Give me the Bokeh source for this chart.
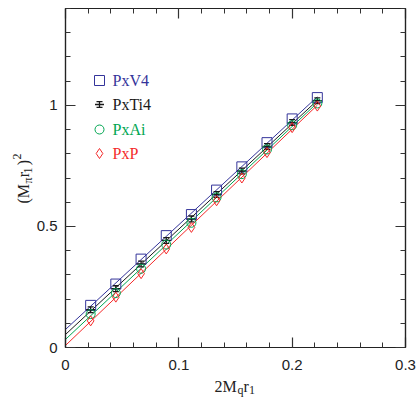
import numpy as np
from bokeh.plotting import figure
from bokeh.models import FixedTicker, LinearAxis, Label
from bokeh.core.properties import value
from bokeh.embed import file_html
from bokeh.resources import INLINE

# ---- data ----
mq = [0.0222, 0.0444, 0.0667, 0.0889, 0.1111, 0.1333, 0.1556, 0.1778, 0.2000, 0.2222]
pxv4 = [0.174, 0.262, 0.365, 0.462, 0.549, 0.650, 0.746, 0.846, 0.944, 1.032]
pxti4 = [0.156, 0.243, 0.345, 0.442, 0.531, 0.632, 0.729, 0.830, 0.929, 1.019]
pxai = [0.138, 0.225, 0.325, 0.425, 0.515, 0.620, 0.716, 0.818, 0.918, 1.008]
pxp = [0.110, 0.208, 0.305, 0.407, 0.496, 0.606, 0.700, 0.805, 0.908, 0.997]
pxti4_err = [0.012, 0.012, 0.012, 0.012, 0.012, 0.012, 0.012, 0.012, 0.012, 0.012]

series_names = ["PxV4", "PxTi4", "PxAi", "PxP"]
series_colors = ["#34349a", "#1a1a1a", "#00a651", "#f42a2a"]
x_ticks = [0, 0.1, 0.2, 0.3]
x_tick_labels = ["0", "0.1", "0.2", "0.3"]
y_ticks = [0, 0.5, 1]
y_tick_labels = ["0", "0.5", "1"]

W, H = 418, 397
BL, BR, BT, BB = 65, 13, 8, 50
XR = (0, 0.3)
YR = (0, 1.4)
FW, FH = W - BL - BR, H - BT - BB


def dx(px):
    return XR[0] + (px - BL) * (XR[1] - XR[0]) / FW


def dy(py):
    return YR[0] + (BT + FH - py) * (YR[1] - YR[0]) / FH


p = figure(width=W, height=H, x_range=XR, y_range=YR, output_backend="svg",
           toolbar_location=None, min_border_left=BL, min_border_right=BR,
           min_border_top=BT, min_border_bottom=BB)
p.xgrid.visible = False
p.ygrid.visible = False
p.outline_line_color = "#222222"
p.outline_line_width = 1.2

xminor = [round(0.02 * i, 2) for i in range(16)]
yminor = [round(0.1 * i, 1) for i in range(15)]


def style(ax, ticks, minor, labels, show):
    ax.ticker = FixedTicker(ticks=ticks, minor_ticks=minor)
    ax.major_tick_in = 10
    ax.major_tick_out = 0
    ax.minor_tick_in = 5
    ax.minor_tick_out = 0
    ax.axis_line_color = "#222222"
    ax.axis_line_width = 1.2
    ax.major_tick_line_color = "#333333"
    ax.minor_tick_line_color = "#333333"
    ax.major_tick_line_width = 1.2
    ax.minor_tick_line_width = 1
    if show:
        ax.major_label_overrides = {t: l for t, l in zip(ticks, labels)}
        ax.major_label_text_font = "Liberation Sans"
        ax.major_label_text_font_size = "15px"
        ax.major_label_text_color = "#222222"
    else:
        ax.major_label_overrides = {t: "" for t in ticks}
        ax.major_label_text_font_size = "0px"
        ax.major_label_standoff = 0


style(p.xaxis[0], x_ticks, xminor, x_tick_labels, True)
style(p.yaxis[0], y_ticks, yminor, y_tick_labels, True)
p.xaxis[0].major_label_standoff = 12
p.yaxis[0].major_label_standoff = 8

top = LinearAxis()
style(top, x_ticks, xminor, x_tick_labels, False)
p.add_layout(top, "above")
right = LinearAxis()
style(right, y_ticks, yminor, y_tick_labels, False)
p.add_layout(right, "right")

# ---- fit lines ----
all_y = [pxv4, pxti4, pxai, pxp]
for ys, c in zip(all_y, series_colors):
    k, b = np.polyfit(mq, ys, 1)
    xs = [0, max(mq)]
    p.line(xs, [b + k * v for v in xs], line_color=c, line_width=1)

# ---- markers ----
p.scatter(mq, pxv4, marker="square", size=10, fill_color=None,
          line_color=series_colors[0], line_width=1)
lo = [y - e for y, e in zip(pxti4, pxti4_err)]
hi = [y + e for y, e in zip(pxti4, pxti4_err)]
p.segment(mq, lo, mq, hi, line_color=series_colors[1], line_width=1.3)
p.scatter(mq, lo, marker="dash", size=6, line_color=series_colors[1], line_width=1.3)
p.scatter(mq, hi, marker="dash", size=6, line_color=series_colors[1], line_width=1.3)
p.scatter(mq, pxti4, marker="dash", size=9, line_color=series_colors[1], line_width=1.3)
p.scatter(mq, pxai, marker="circle", size=9, fill_color=None,
          line_color=series_colors[2], line_width=1)
p.scatter(mq, pxp, marker="diamond", size=10, fill_color=None,
          line_color=series_colors[3], line_width=1)

# ---- legend (drawn by hand) ----
leg_x = dx(99)
leg_tx = dx(112)
leg_rows = [dy(80), dy(104), dy(129), dy(153)]
p.scatter([leg_x], [leg_rows[0]], marker="square", size=10, fill_color=None,
          line_color=series_colors[0], line_width=1)
le = 0.012
p.segment([leg_x], [leg_rows[1] - le], [leg_x], [leg_rows[1] + le],
          line_color=series_colors[1], line_width=1.3)
p.scatter([leg_x, leg_x], [leg_rows[1] - le, leg_rows[1] + le], marker="dash", size=6,
          line_color=series_colors[1], line_width=1.3)
p.scatter([leg_x], [leg_rows[1]], marker="dash", size=9,
          line_color=series_colors[1], line_width=1.3)
p.scatter([leg_x], [leg_rows[2]], marker="circle", size=9, fill_color=None,
          line_color=series_colors[2], line_width=1)
p.scatter([leg_x], [leg_rows[3]], marker="diamond", size=10, fill_color=None,
          line_color=series_colors[3], line_width=1)
p.text(x=[leg_tx] * 4, y=leg_rows, text=series_names, text_color=series_colors,
       text_font=value("Liberation Serif"), text_font_size="16px",
       text_baseline="middle", text_align="left")

# ---- axis labels built from pieces (sub/superscripts) ----
# Labels are placed in side panels that have spare room (so they are not clipped
# to the frame); their positions are still given in data coordinates.
SERIF = "Liberation Serif"
GAP = "\u2004\u200a"


def add_piece(txt, px, py, size, side, angle=0.0):
    p.add_layout(Label(x=dx(px), y=dy(py), text=txt, text_font=SERIF,
                       text_font_size=f"{size}px", text_color="#222222",
                       text_align="left", text_baseline="alphabetic", angle=angle), side)


# x label: 2M_q r_1
xb = 386
x0 = 214
add_piece("2M" + GAP + "r", x0, xb, 16, "below")
add_piece("q", x0 + 23, xb + 3.5, 12, "right")
add_piece("1", x0 + 34.5, xb + 3.5, 12, "right")

# y label: (M_pi r_1)^2, rotated
a = np.pi / 2
bx = 23
y0 = 203
add_piece("(M" + GAP + "r" + GAP + ")", bx, y0, 16, "left", a)
add_piece("π" + "\u2004" + "1", bx + 4, y0 - 20, 12, "left", a)
add_piece("2", bx - 7, y0 - 44, 12, "above", a)

open("out.html", "w").write(file_html(p, INLINE))
